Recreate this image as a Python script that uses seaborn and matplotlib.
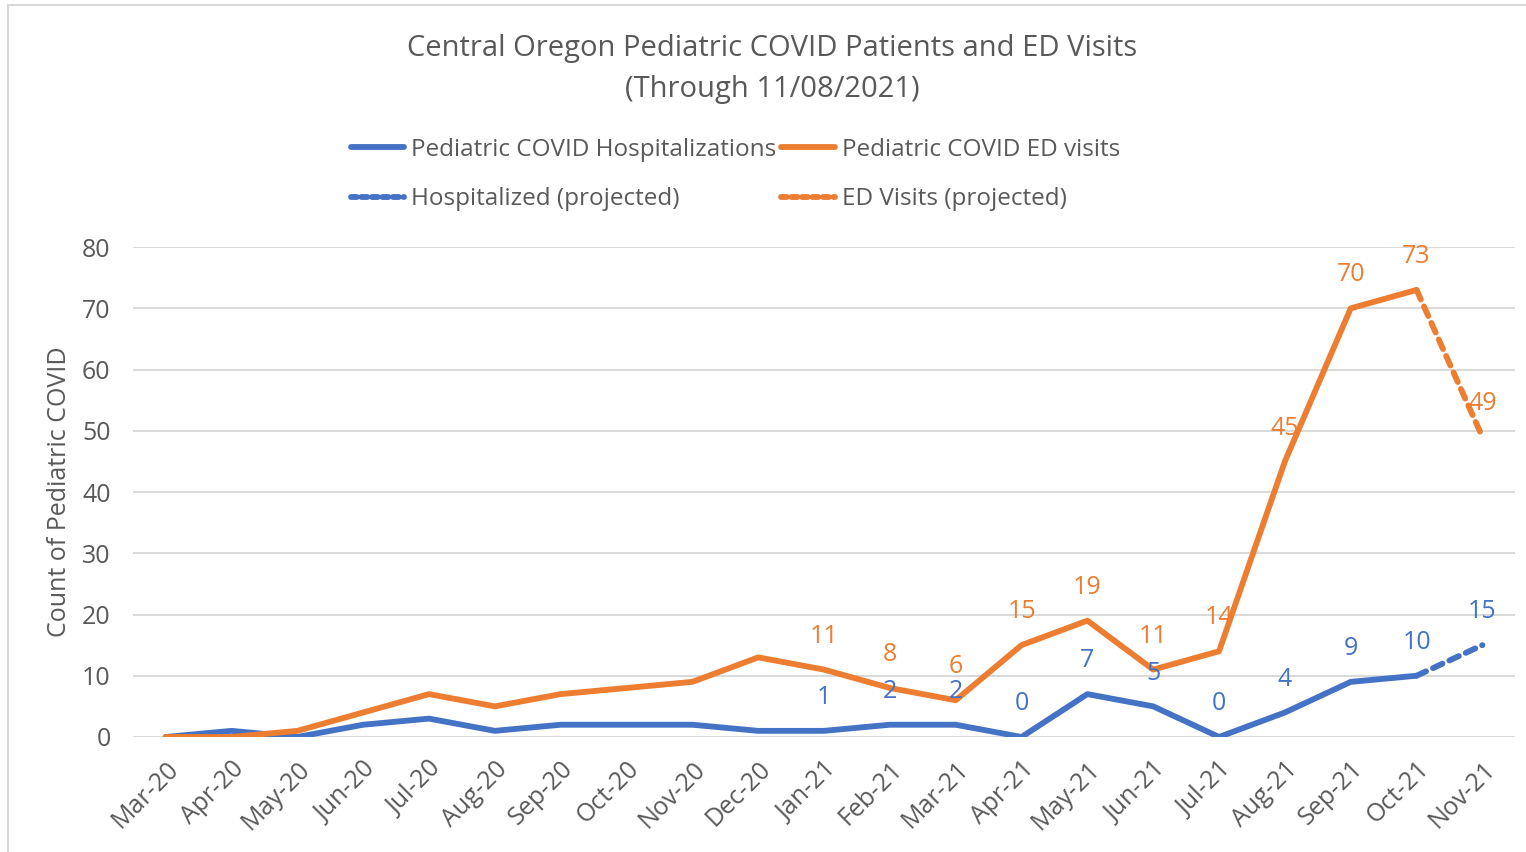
import numpy as np
import pandas as pd
import seaborn as sns
import matplotlib.pyplot as plt
from matplotlib.lines import Line2D
from matplotlib.patches import Rectangle

months = ["Mar-20", "Apr-20", "May-20", "Jun-20", "Jul-20", "Aug-20", "Sep-20",
          "Oct-20", "Nov-20", "Dec-20", "Jan-21", "Feb-21", "Mar-21", "Apr-21",
          "May-21", "Jun-21", "Jul-21", "Aug-21", "Sep-21", "Oct-21", "Nov-21"]
hosp = [0, 1, 0, 2, 3, 1, 2, 2, 2, 1, 1, 2, 2, 0, 7, 5, 0, 4, 9, 10, 15]
ed = [0, 0, 1, 4, 7, 5, 7, 8, 9, 13, 11, 8, 6, 15, 19, 11, 14, 45, 70, 73, 49]
n_actual = 20          # Mar-20 .. Oct-21 are actual, Nov-21 projected
first_label = 10       # data labels start at Jan-21

BLUE = "#4472C4"
ORANGE = "#ED7D31"
GREY = "#595959"
LW = 4.2
DASH = (0, (1.8, 1.3))

sns.set_theme(style="white")
plt.rcParams["font.family"] = ["Open Sans", "DejaVu Sans"]

x = np.arange(len(months))
df = pd.DataFrame({"x": x, "month": months, "hosp": hosp, "ed": ed})
act = df.iloc[:n_actual]
proj = df.iloc[n_actual - 1:]

fig = plt.figure(figsize=(15.26, 8.52), dpi=100)
ax = fig.add_axes([0.087, 0.135, 0.906, 0.575])

sns.lineplot(data=act, x="x", y="hosp", color=BLUE, ax=ax)
sns.lineplot(data=act, x="x", y="ed", color=ORANGE, ax=ax)
sns.lineplot(data=proj, x="x", y="hosp", color=BLUE, ax=ax)
sns.lineplot(data=proj, x="x", y="ed", color=ORANGE, ax=ax)
for ln in ax.lines:
    ln.set_linewidth(LW)
    ln.set_solid_joinstyle("round")
for ln in ax.lines[2:4]:
    ln.set_linestyle(DASH)
    ln.set_dash_capstyle("round")

for i in range(first_label, len(months)):
    ax.annotate(str(hosp[i]), (x[i], hosp[i]), xytext=(0, 24), textcoords="offset points",
                ha="center", va="center", color=BLUE, fontsize=18)
    ax.annotate(str(ed[i]), (x[i], ed[i]), xytext=(0, 24), textcoords="offset points",
                ha="center", va="center", color=ORANGE, fontsize=18)

ax.set_xlim(-0.5, len(months) - 0.5)
ax.set_ylim(0, 80)
ax.set_yticks(range(0, 81, 10))
ax.set_xticks(x)
ax.set_xticklabels(months, rotation=45, ha="right", rotation_mode="anchor")
ax.tick_params(axis="x", labelsize=18, colors=GREY, length=0, pad=14)
ax.tick_params(axis="y", labelsize=18, colors=GREY, length=0, pad=16)
ax.set_xlabel("")
ax.set_ylabel("Count of Pediatric COVID", fontsize=18, color=GREY, labelpad=7)
ax.grid(axis="y", color="#D9D9D9", lw=1.4)
ax.set_axisbelow(True)
for s in ax.spines.values():
    s.set_visible(False)

fig.text(0.506, 0.943, "Central Oregon Pediatric COVID Patients and ED Visits",
         ha="center", va="center", fontsize=21, color=GREY)
fig.text(0.506, 0.895, "(Through 11/08/2021)", ha="center", va="center", fontsize=21, color=GREY)

handles = [
    Line2D([], [], color=BLUE, lw=LW),
    Line2D([], [], color=BLUE, lw=LW, linestyle=(0, (1.0, 0.8)), dash_capstyle="round"),
    Line2D([], [], color=ORANGE, lw=LW),
    Line2D([], [], color=ORANGE, lw=LW, linestyle=(0, (1.0, 0.8)), dash_capstyle="round"),
]
labels = ["Pediatric COVID Hospitalizations", "Hospitalized (projected)",
          "Pediatric COVID ED visits", "ED Visits (projected)"]
leg = fig.legend(handles, labels, ncol=2, loc="center", bbox_to_anchor=(0.482, 0.795),
                 frameon=False, fontsize=17.5, handlelength=2.2, handletextpad=0.3,
                 columnspacing=0.2, labelspacing=1.05)
for t in leg.get_texts():
    t.set_color(GREY)

fig.patches.append(Rectangle((0.005, -0.01), 1.0, 1.004, transform=fig.transFigure,
                             fill=False, edgecolor="#D9D9D9", lw=1.5))

fig.savefig("out.png", dpi=100)
